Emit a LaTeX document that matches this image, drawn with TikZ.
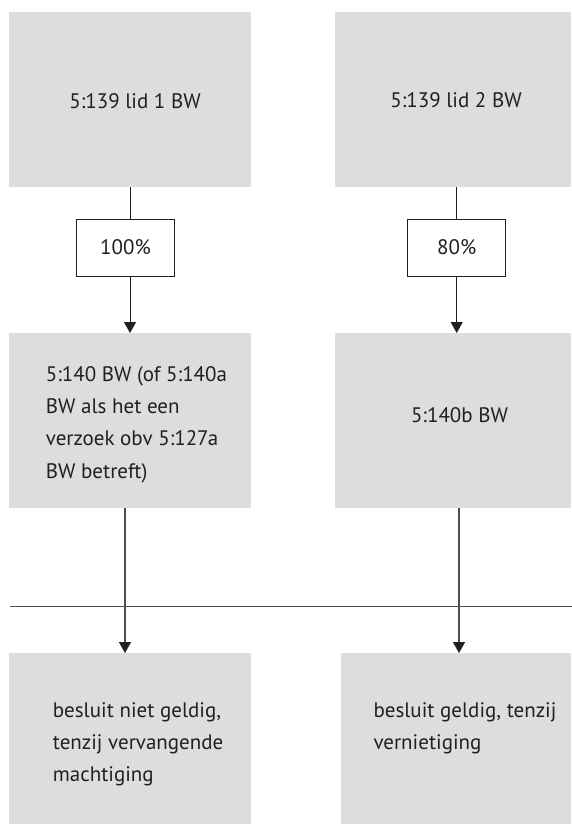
\documentclass[tikz,border=0pt]{standalone}
\usepackage{fontspec}
\setmainfont{PT Sans}
\usetikzlibrary{arrows.meta}
\definecolor{boxgray}{HTML}{DCDDDF}
\definecolor{ink}{HTML}{231F20}
\definecolor{linegray}{HTML}{4D4D4D}
\begin{document}
\begin{tikzpicture}[x=1pt,y=-1pt,
  gbox/.style={fill=boxgray, draw=none, inner sep=0pt, anchor=north west},
  pbox/.style={draw=ink, line width=0.9pt, fill=white, inner sep=0pt, anchor=north west, minimum width=98pt, minimum height=57pt, text=ink, font=\fontsize{21}{24}\selectfont},
  txt/.style={inner sep=0pt, text=ink, font=\fontsize{21}{32.3}\selectfont},
  upline/.style={draw=ink, line width=0.9pt},
  lowline/.style={draw=linegray, line width=1.3pt},
  tip/.style={-{Triangle[width=12pt,length=11pt,color=ink]}}
]
\useasboundingbox (0,0) rectangle (572,824);
% grey boxes
\node[gbox, minimum width=242pt, minimum height=175pt] (b1) at (9,12) {};
\node[gbox, minimum width=236pt, minimum height=175pt] (b2) at (335,12) {};
\node[gbox, minimum width=242pt, minimum height=175pt] (m1) at (9,333) {};
\node[gbox, minimum width=236pt, minimum height=175pt] (m2) at (335,333) {};
\node[gbox, minimum width=242pt, minimum height=171pt] (e1) at (9,653) {};
\node[gbox, minimum width=230pt, minimum height=171pt] (e2) at (341,653) {};
% percentage boxes
\node[pbox] (p1) at (76,218.5) {100\%};
\node[pbox] (p2) at (407.3,218.5) {80\%};
% texts
\node[txt, anchor=base] (tb1) at (135,108.3) {5:139 lid 1 BW};
\node[txt, anchor=base] (tb2) at (456,108) {5:139 lid 2 BW};
\node[txt, anchor=north west, align=left] (tm1) at (45.7,361) {\rule{0pt}{20pt}5:140 BW (of 5:140a\\BW als het een\\verzoek obv 5:127a\\BW betreft)};
\node[txt, anchor=base] (tm2) at (459.5,422.7) {5:140b BW};
\node[txt, anchor=north west, align=left] (te1) at (52.7,697) {\rule{0pt}{20pt}besluit niet geldig,\\tenzij vervangende\\machtiging};
\node[txt, anchor=north west, align=left] (te2) at (373.3,697.3) {\rule{0pt}{20pt}besluit geldig, tenzij\\vernietiging};
% connector columns
\coordinate (c1) at (130,0);
\coordinate (c2) at (456.7,0);
\coordinate (c3) at (125,0);
\coordinate (c4) at (459,0);
\coordinate (hl) at (10,606.7);
\coordinate (hr) at (572,606.7);
% connectors
\draw[upline] (b1.south -| c1) -- (p1.north -| c1);
\draw[upline, tip] (p1.south -| c1) -- (m1.north -| c1);
\draw[upline] (b2.south -| c2) -- (p2.north -| c2);
\draw[upline, tip] (p2.south -| c2) -- (m2.north -| c2);
\draw[lowline] (hl) -- (hr);
\draw[lowline, tip] (m1.south -| c3) -- (e1.north -| c3);
\draw[lowline, tip] (m2.south -| c4) -- (e2.north -| c4);
\end{tikzpicture}
\end{document}
